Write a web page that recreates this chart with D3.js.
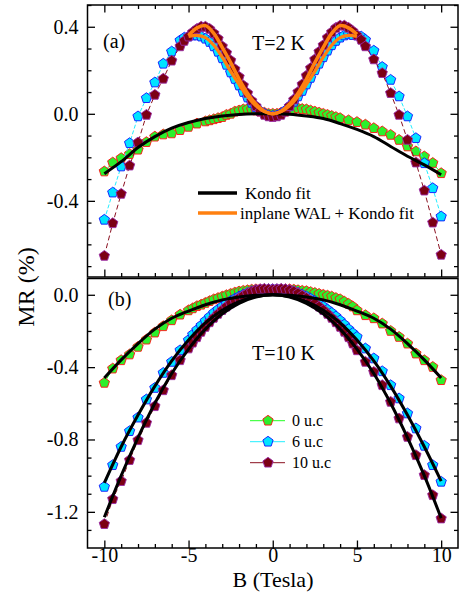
<!DOCTYPE html>
<html>
<head>
<meta charset="utf-8">
<script src="https://cdn.jsdelivr.net/npm/d3@7"></script>
<style>
  body { margin: 0; background: #fff; }
  svg { display: block; }
  text { font-family: "Liberation Serif", "Times New Roman", serif; fill: #000; }
</style>
</head>
<body>
<svg id="chart" width="460" height="604"></svg>
<script>
// ---------- Panel (a): T = 2 K ----------
const fieldA = [-10,-9.5,-9,-8.5,-8,-7.5,-7,-6.5,-6,-5.5,
  -5.25,-5,-4.75,-4.5,-4.25,-4,-3.75,-3.5,-3.25,-3,-2.75,-2.5,-2.25,-2,-1.75,-1.5,-1.25,-1,-0.75,-0.5,-0.25,
  0,0.25,0.5,0.75,1,1.25,1.5,1.75,2,2.25,2.5,2.75,3,3.25,3.5,3.75,4,4.25,4.5,4.75,5,5.25,
  5.5,6,6.5,7,7.5,8,8.5,9,9.5,10];
const blueA = [-0.487,-0.362,-0.242,-0.135,-0.012,0.072,0.144,0.230,0.286,0.337,
  0.350,0.355,0.360,0.360,0.355,0.345,0.330,0.310,0.285,0.255,0.225,0.190,0.160,0.130,0.100,0.075,0.050,0.030,0.012,0.000,-0.008,
  -0.010,-0.008,0.000,0.015,0.035,0.055,0.080,0.105,0.135,0.165,0.200,0.230,0.260,0.290,0.315,0.335,0.350,0.360,0.365,0.362,0.360,0.355,
  0.340,0.290,0.215,0.156,0.080,-0.012,-0.112,-0.227,-0.342,-0.472];
const maroonA = [-0.653,-0.503,-0.368,-0.238,-0.132,-0.005,0.087,0.161,0.244,0.310,
  0.335,0.355,0.375,0.390,0.400,0.400,0.390,0.370,0.345,0.310,0.280,0.245,0.205,0.170,0.130,0.095,0.060,0.035,0.010,-0.005,-0.012,
  -0.015,-0.012,-0.005,0.010,0.035,0.065,0.100,0.135,0.175,0.210,0.250,0.285,0.315,0.350,0.375,0.395,0.405,0.405,0.395,0.380,0.360,0.340,
  0.310,0.250,0.187,0.095,-0.005,-0.120,-0.224,-0.353,-0.500,-0.648];

const fieldGreenA = [-10,-9.5,-9,-8.5,-8,-7.5,-7,-6.5,-6,-5.5,-5,-4.5,
  -4,-3.75,-3.5,-3.25,-3,-2.75,-2.5,-2.25,-2,-1.75,-1.5,-1.25,-1,-0.75,-0.5,-0.25,
  0,0.25,0.5,0.75,1,1.25,1.5,1.75,2,2.25,2.5,2.75,3,3.25,3.5,3.75,4,
  4.5,5,5.5,6,6.5,7,7.5,8,8.5,9,9.5,10];
const greenA = [-0.265,-0.224,-0.204,-0.185,-0.165,-0.130,-0.105,-0.095,-0.090,-0.075,-0.060,-0.045,
  -0.035,-0.030,-0.025,-0.020,-0.015,-0.005,0.000,0.010,0.015,0.020,0.022,0.020,0.015,0.010,0.005,0.000,
  0.000,0.000,0.005,0.010,0.018,0.022,0.025,0.022,0.020,0.015,0.010,0.005,0.000,-0.005,-0.010,-0.015,-0.020,
  -0.030,-0.038,-0.050,-0.066,-0.081,-0.097,-0.120,-0.150,-0.173,-0.196,-0.226,-0.273];

// Kondo fit (black) and in-plane WAL + Kondo fits (orange)
const fieldFit = [-10,-9,-8,-7,-6,-5,-4,-3,-2,-1,0,1,2,3,4,5,6,7,8,9,10];
const kondoA = [-0.275,-0.220,-0.155,-0.105,-0.066,-0.040,-0.022,-0.010,-0.003,0,0,-0.002,-0.010,-0.022,-0.045,-0.072,-0.105,-0.150,-0.195,-0.235,-0.280];
const fieldWal = [-5,-4.5,-4,-3.5,-3,-2.5,-2,-1.5,-1,-0.5,0,0.5,1,1.5,2,2.5,3,3.5,4,4.5,5];
const walMaroonA = [0.360,0.395,0.405,0.370,0.305,0.235,0.160,0.095,0.045,0.012,0,0.012,0.045,0.095,0.160,0.235,0.305,0.370,0.405,0.395,0.365];
const walBlueA = [0.355,0.360,0.350,0.315,0.260,0.195,0.135,0.080,0.037,0.010,0,0.010,0.037,0.080,0.135,0.195,0.260,0.315,0.350,0.360,0.355];

// ---------- Panel (b): T = 10 K ----------
const fieldB = [-10,-9.5,-9,-8.5,-8,-7.5,-7,-6.5,-6,-5.5,
  -5,-4.75,-4.5,-4.25,-4,-3.75,-3.5,-3.25,-3,-2.75,-2.5,-2.25,-2,-1.75,-1.5,-1.25,-1,-0.75,-0.5,-0.25,
  0,0.25,0.5,0.75,1,1.25,1.5,1.75,2,2.25,2.5,2.75,3,3.25,3.5,3.75,4,4.25,4.5,4.75,5,
  5.5,6,6.5,7,7.5,8,8.5,9,9.5,10];
const greenB = [-0.487,-0.408,-0.362,-0.330,-0.288,-0.248,-0.209,-0.174,-0.141,-0.110,
  -0.086,-0.075,-0.063,-0.055,-0.045,-0.035,-0.025,-0.018,-0.010,-0.002,0.005,0.012,0.018,0.022,0.025,0.028,0.030,0.030,0.030,0.030,
  0.030,0.030,0.030,0.030,0.030,0.028,0.025,0.022,0.020,0.015,0.010,0.005,0.000,-0.005,-0.010,-0.018,-0.025,-0.038,-0.050,-0.065,-0.086,
  -0.113,-0.130,-0.159,-0.200,-0.233,-0.270,-0.325,-0.362,-0.399,-0.472];
const blueB = [-1.062,-0.942,-0.841,-0.754,-0.679,-0.579,-0.515,-0.432,-0.371,-0.307,
  -0.251,-0.220,-0.195,-0.170,-0.145,-0.122,-0.100,-0.082,-0.065,-0.050,-0.035,-0.022,-0.010,0.000,0.010,0.018,0.025,0.028,0.030,0.030,
  0.030,0.030,0.030,0.028,0.025,0.018,0.010,0.000,-0.010,-0.022,-0.035,-0.050,-0.065,-0.082,-0.100,-0.120,-0.142,-0.165,-0.190,-0.212,-0.233,
  -0.297,-0.352,-0.423,-0.500,-0.573,-0.656,-0.739,-0.835,-0.942,-1.034];
const maroonB = [-1.268,-1.130,-1.030,-0.914,-0.804,-0.708,-0.616,-0.528,-0.445,-0.362,
  -0.297,-0.265,-0.235,-0.205,-0.178,-0.152,-0.128,-0.106,-0.085,-0.066,-0.048,-0.032,-0.018,-0.005,0.008,0.018,0.025,0.030,0.032,0.030,
  0.028,0.030,0.032,0.030,0.025,0.018,0.008,-0.005,-0.018,-0.032,-0.048,-0.066,-0.085,-0.106,-0.128,-0.152,-0.178,-0.205,-0.235,-0.270,-0.307,
  -0.371,-0.427,-0.500,-0.592,-0.684,-0.786,-0.887,-0.997,-1.108,-1.237];
const kondoGreenB  = [-0.460,-0.360,-0.270,-0.190,-0.130,-0.090,-0.055,-0.028,-0.012,-0.003,0,-0.003,-0.012,-0.028,-0.055,-0.090,-0.130,-0.190,-0.270,-0.360,-0.460];
const kondoBlueB   = [-1.040,-0.840,-0.665,-0.505,-0.365,-0.250,-0.155,-0.085,-0.038,-0.010,0,-0.010,-0.038,-0.085,-0.155,-0.250,-0.365,-0.505,-0.665,-0.840,-1.030];
const kondoMaroonB = [-1.230,-1.000,-0.790,-0.600,-0.435,-0.300,-0.190,-0.105,-0.047,-0.012,0,-0.012,-0.047,-0.105,-0.190,-0.300,-0.435,-0.600,-0.790,-1.000,-1.235];

// Axis ticks and legend text
const xMajor = [-10,-5,0,5,10];
const xMinor = [-9,-8,-7,-6,-4,-3,-2,-1,1,2,3,4,6,7,8,9];
const yMajorA = [0.4,0.0,-0.4];
const yMinorA = [0.5,0.3,0.2,0.1,-0.1,-0.2,-0.3,-0.5,-0.6,-0.7];
const yMajorB = [0.0,-0.4,-0.8,-1.2];
const yMinorB = [-0.1,-0.2,-0.3,-0.5,-0.6,-0.7,-0.9,-1.0,-1.1,-1.3];
const seriesNames = ["0 u.c","6 u.c","10 u.c"];
const fitNames = ["Kondo fit","inplane WAL + Kondo fit"];

// ---------- Drawing ----------
const left = 87.5, right = 458;
const svg = d3.select("#chart");

const x = d3.scaleLinear().domain([-11, 11]).range([left, right]);
const yA = d3.scaleLinear().domain([-0.75, 0.5]).range([277, 5]);
const yB = d3.scaleLinear().domain([-1.4, 0.09]).range([548, 278.5]);

const look = {
  green:  { fill: "#2cf02c", stroke: "#ff1010", line: "#22ff22", dash: null },
  cyan:   { fill: "#00e4ff", stroke: "#1010ff", line: "#22eeff", dash: "4,2" },
  maroon: { fill: "#7c0014", stroke: "#9a2aa6", line: "#8a1020", dash: "5,3" }
};
const kondoColor = "#000000", walColor = "#ff8010";

const pentagonPath = (r => {
  const pts = d3.range(5).map(k => {
    const a = -Math.PI / 2 + k * 2 * Math.PI / 5;
    return [r * Math.cos(a), r * Math.sin(a)];
  });
  return "M" + pts.map(p => p[0].toFixed(2) + "," + p[1].toFixed(2)).join("L") + "Z";
})(5.4);

function drawSeries(g, y, bs, vs, st) {
  const pts = bs.map((b, i) => [b, vs[i]]);
  const line = d3.line().x(d => x(d[0])).y(d => y(d[1]));
  g.append("path").attr("d", line(pts)).attr("fill", "none")
    .attr("stroke", st.line).attr("stroke-width", 1)
    .attr("stroke-dasharray", st.dash);
  g.selectAll(null).data(pts).join("path")
    .attr("d", pentagonPath)
    .attr("transform", d => `translate(${x(d[0])},${y(d[1])})`)
    .attr("fill", st.fill).attr("stroke", st.stroke).attr("stroke-width", 0.9);
}

function drawFit(g, y, bs, vs, color, width) {
  const pts = bs.map((b, i) => [b, vs[i]]);
  const line = d3.line().curve(d3.curveCatmullRom.alpha(0.5)).x(d => x(d[0])).y(d => y(d[1]));
  g.append("path").attr("d", line(pts)).attr("fill", "none")
    .attr("stroke", color).attr("stroke-width", width).attr("stroke-linecap", "butt");
}

const fmt = d => d.toFixed(1);
const fmtX = d => String(d);

function ticks(g, axis) {
  g.call(axis);
  g.select(".domain").remove();
  g.selectAll(".tick line").attr("stroke", "#000").attr("stroke-width", 1.3);
  g.selectAll(".tick text").style("font-family", '"Liberation Serif", serif').style("font-size", "20px").attr("fill", "#000");
}

function frame(y, opts) {
  const g = svg.append("g");
  const [y0, y1] = y.range();
  // left ticks (inward) with labels
  ticks(g.append("g").attr("transform", `translate(${left},0)`),
    d3.axisLeft(y).tickValues(opts.yMajor).tickSize(-7.5).tickPadding(9).tickFormat(fmt));
  ticks(g.append("g").attr("transform", `translate(${left},0)`),
    d3.axisLeft(y).tickValues(opts.yMinor).tickSize(-4).tickFormat(""));
  // right ticks
  ticks(g.append("g").attr("transform", `translate(${right},0)`),
    d3.axisRight(y).tickValues(opts.yMajor).tickSize(-7.5).tickFormat(""));
  ticks(g.append("g").attr("transform", `translate(${right},0)`),
    d3.axisRight(y).tickValues(opts.yMinor).tickSize(-4).tickFormat(""));
  if (opts.topTicks) {
    ticks(g.append("g").attr("transform", `translate(0,${y1})`),
      d3.axisTop(x).tickValues(xMajor).tickSize(-7.5).tickFormat(""));
    ticks(g.append("g").attr("transform", `translate(0,${y1})`),
      d3.axisTop(x).tickValues(xMinor).tickSize(-4).tickFormat(""));
  }
  ticks(g.append("g").attr("transform", `translate(0,${y0})`),
    d3.axisBottom(x).tickValues(xMajor).tickSize(-7.5).tickPadding(0)
      .tickFormat(opts.xLabels ? fmtX : ""));
  ticks(g.append("g").attr("transform", `translate(0,${y0})`),
    d3.axisBottom(x).tickValues(xMinor).tickSize(-4).tickFormat(""));
  g.append("rect").attr("x", left).attr("y", y1).attr("width", right - left).attr("height", y0 - y1)
    .attr("fill", "none").attr("stroke", "#000").attr("stroke-width", 1.5);
}

// panel (a)
const ga = svg.append("g");
drawSeries(ga, yA, fieldGreenA, greenA, look.green);
drawSeries(ga, yA, fieldA, blueA, look.cyan);
drawSeries(ga, yA, fieldA, maroonA, look.maroon);
drawFit(ga, yA, fieldFit, kondoA, kondoColor, 3);
drawFit(ga, yA, fieldWal, walBlueA, walColor, 3.2);
drawFit(ga, yA, fieldWal, walMaroonA, walColor, 3.5);
frame(yA, { yMajor: yMajorA, yMinor: yMinorA, topTicks: true, xLabels: false });

// panel (b)
const gb = svg.append("g");
drawSeries(gb, yB, fieldB, greenB, look.green);
drawSeries(gb, yB, fieldB, blueB, look.cyan);
drawSeries(gb, yB, fieldB, maroonB, look.maroon);
drawFit(gb, yB, fieldFit, kondoGreenB, kondoColor, 3);
drawFit(gb, yB, fieldFit, kondoBlueB, kondoColor, 3);
drawFit(gb, yB, fieldFit, kondoMaroonB, kondoColor, 3);
frame(yB, { yMajor: yMajorB, yMinor: yMinorB, topTicks: false, xLabels: true });

// panel annotations
svg.append("text").attr("x", 103).attr("y", 48).style("font-size", "20px").text("(a)");
svg.append("text").attr("x", 252).attr("y", 50).style("font-size", "20px").text("T=2 K");
svg.append("text").attr("x", 108).attr("y", 306).style("font-size", "20px").text("(b)");
svg.append("text").attr("x", 252).attr("y", 360).style("font-size", "20px").text("T=10 K");

// axis titles
svg.append("text").attr("x", 273).attr("y", 587).attr("text-anchor", "middle")
  .style("font-size", "22px").text("B (Tesla)");
svg.append("text").attr("transform", "translate(34,287) rotate(-90)").attr("text-anchor", "middle")
  .style("font-size", "24px").text("MR (%)");

// fit legend (panel a)
const fitLegend = svg.append("g");
[[kondoColor, 193, 245], [walColor, 213, 240]].forEach(([c, yy, tx], i) => {
  fitLegend.append("line").attr("x1", 198).attr("x2", 237).attr("y1", yy).attr("y2", yy)
    .attr("stroke", c).attr("stroke-width", 3.5);
  fitLegend.append("text").attr("x", tx).attr("y", yy + 6).style("font-size", "17px").text(fitNames[i]);
});

// sample legend (panel b)
const sampleLegend = svg.append("g");
[look.green, look.cyan, look.maroon].forEach((st, i) => {
  const yy = 420.7 + i * 21;
  sampleLegend.append("line").attr("x1", 250).attr("x2", 285).attr("y1", yy).attr("y2", yy)
    .attr("stroke", st.line).attr("stroke-width", 1);
  sampleLegend.append("path").attr("d", pentagonPath).attr("transform", `translate(268,${yy})`)
    .attr("fill", st.fill).attr("stroke", st.stroke).attr("stroke-width", 0.9);
  sampleLegend.append("text").attr("x", 292).attr("y", yy + 5.5).style("font-size", "16px").text(seriesNames[i]);
});
</script>
</body>
</html>
